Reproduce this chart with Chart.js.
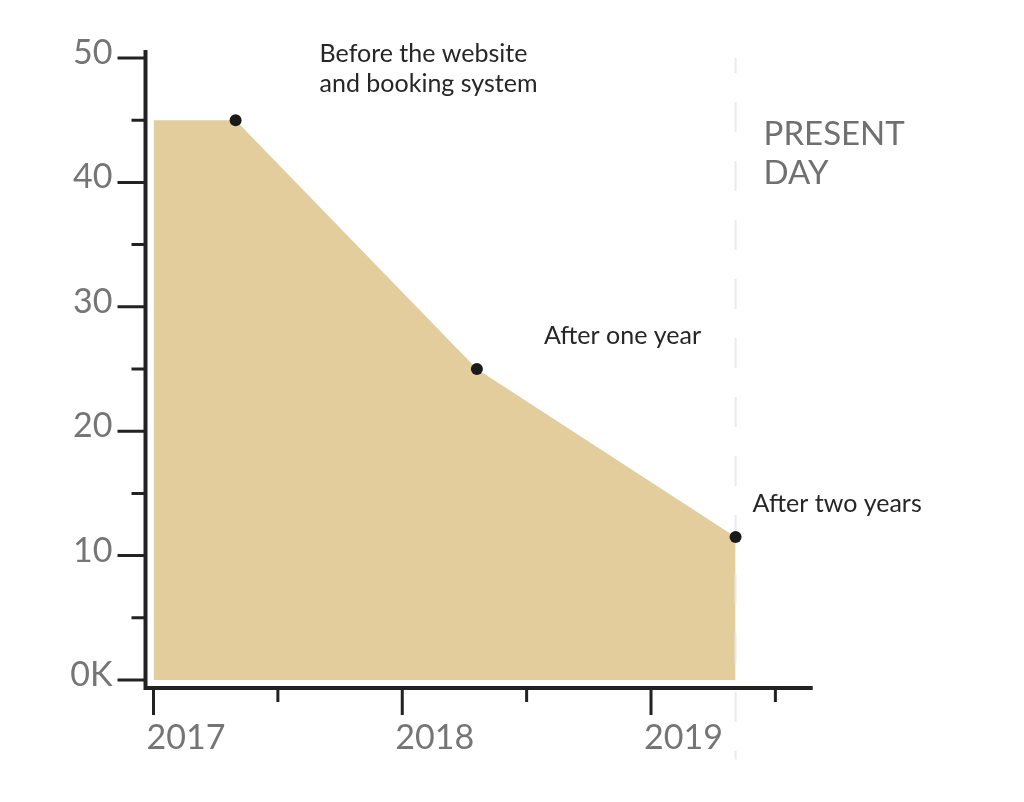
<!DOCTYPE html>
<html>
<head>
<meta charset="utf-8">
<title>Before / after chart</title>
<script src="https://cdn.jsdelivr.net/npm/chart.js@4/dist/chart.umd.min.js"></script>
<style>
    html, body { margin: 0; padding: 0; background: #ffffff; }
    #wrap { width: 1024px; height: 802px; }
</style>
</head>
<body>
<div id="wrap"><canvas id="areaChart" width="1024" height="802"></canvas></div>
<script>
// ==========================================
// data
// ==========================================
const pointYears = [2017, 2017.33, 2018.3, 2019.34];
const pointValues = [45, 45, 25, 11.5];
const pointRadius = [0, 6, 6, 6]; // first point is only the start of the area

const xMajorTicks = [2017, 2018, 2019];
const xMajorLabels = ['2017', '2018', '2019'];
const xMinorTicks = [2017.5, 2018.5, 2019.5];

const yMajorTicks = [0, 10, 20, 30, 40, 50];
const yMajorLabels = ['0K', '10', '20', '30', '40', '50'];
const yMinorTicks = [5, 15, 25, 35, 45];

// present day marker (x) and how far the dashed line runs (y)
const presentYear = 2019.34;
const presentSpan = [50, -6.4];

// notes next to the dots: [point index, lines, dx, dy of first baseline]
const notes = [
    [1, ['Before the website', 'and booking system'], 84, -58],
    [2, ['After one year'], 67, -25],
    [3, ['After two years'], 17, -25]
];

const AXIS_COLOR = '#222222';
const TICK_TEXT = '#757575';
const FONT = 'Lato, "Noto Sans", sans-serif';

// ==========================================
// axes, ticks and texts (drawn from the chart's own scales)
// ==========================================
const axesPlugin = {
    id: 'handAxes',
    afterDraw(chart) {
        const ctx = chart.ctx;
        const xs = chart.scales.x;
        const ys = chart.scales.y;
        const axisX = xs.getPixelForValue(2017) - 8;
        const axisY = ys.getPixelForValue(0) + 8;

        ctx.save();
        ctx.strokeStyle = AXIS_COLOR;
        ctx.lineCap = 'butt';

        // axis lines
        ctx.lineWidth = 4;
        ctx.beginPath();
        ctx.moveTo(axisX, ys.getPixelForValue(50) - 8);
        ctx.lineTo(axisX, axisY + 2);
        ctx.moveTo(axisX - 2, axisY);
        ctx.lineTo(xs.getPixelForValue(2019.65), axisY);
        ctx.stroke();

        // y ticks
        ctx.lineWidth = 3;
        ctx.beginPath();
        yMajorTicks.forEach(v => {
            const py = ys.getPixelForValue(v);
            ctx.moveTo(axisX - 28, py);
            ctx.lineTo(axisX, py);
        });
        yMinorTicks.forEach(v => {
            const py = ys.getPixelForValue(v);
            ctx.moveTo(axisX - 14, py);
            ctx.lineTo(axisX, py);
        });
        // x ticks
        xMajorTicks.forEach(v => {
            const px = xs.getPixelForValue(v);
            ctx.moveTo(px, axisY);
            ctx.lineTo(px, axisY + 27);
        });
        xMinorTicks.forEach(v => {
            const px = xs.getPixelForValue(v);
            ctx.moveTo(px, axisY);
            ctx.lineTo(px, axisY + 14);
        });
        ctx.stroke();

        // tick labels
        ctx.fillStyle = TICK_TEXT;
        ctx.font = '34px ' + FONT;
        ctx.textBaseline = 'alphabetic';
        ctx.textAlign = 'right';
        yMajorTicks.forEach((v, i) => {
            ctx.fillText(yMajorLabels[i], axisX - 33, ys.getPixelForValue(v) + 6);
        });
        ctx.textAlign = 'left';
        xMajorTicks.forEach((v, i) => {
            ctx.fillText(xMajorLabels[i], xs.getPixelForValue(v) - 7, 749);
        });

        // present day
        ctx.fillStyle = '#707070';
        ctx.font = '33px ' + FONT;
        const pdx = xs.getPixelForValue(presentYear) + 28;
        ctx.fillText('PRESENT', pdx, 145);
        ctx.fillText('DAY', pdx, 184);

        // notes beside the dots
        const meta = chart.getDatasetMeta(0);
        ctx.fillStyle = '#262626';
        ctx.font = '25px ' + FONT;
        notes.forEach(([idx, lines, dx, dy]) => {
            const pt = meta.data[idx];
            lines.forEach((t, k) => {
                ctx.fillText(t, pt.x + dx, pt.y + dy + k * 30);
            });
        });
        ctx.restore();
    }
};

// ==========================================
// chart
// ==========================================
const areaPoints = pointYears.map((x, i) => ({ x: x, y: pointValues[i] }));
const presentLine = presentSpan.map(v => ({ x: presentYear, y: v }));

new Chart(document.getElementById('areaChart'), {
    type: 'line',
    data: {
        datasets: [
            {
                data: areaPoints,
                fill: 'origin',
                backgroundColor: '#e3cd9d',
                borderWidth: 0,
                borderColor: 'rgba(0,0,0,0)',
                tension: 0,
                pointRadius: pointRadius,
                pointBackgroundColor: '#1a1a1a',
                pointBorderWidth: 0,
                clip: false,
                order: 0
            },
            {
                data: presentLine,
                fill: false,
                borderColor: 'rgba(234,234,234,0.95)',
                borderWidth: 2,
                borderDash: [30, 29],
                borderDashOffset: 15,
                pointRadius: 0,
                clip: false,
                order: 1
            }
        ]
    },
    options: {
        responsive: false,
        animation: false,
        devicePixelRatio: 1,
        layout: { padding: { left: 153.5, right: 211.3, top: 58, bottom: 122 } },
        scales: {
            x: { type: 'linear', min: 2017, max: 2019.65, display: false },
            y: { min: 0, max: 50, display: false }
        },
        plugins: {
            legend: { display: false },
            tooltip: { enabled: false },
            filler: { drawTime: 'beforeDatasetsDraw' }
        }
    },
    plugins: [axesPlugin]
});
</script>
</body>
</html>
